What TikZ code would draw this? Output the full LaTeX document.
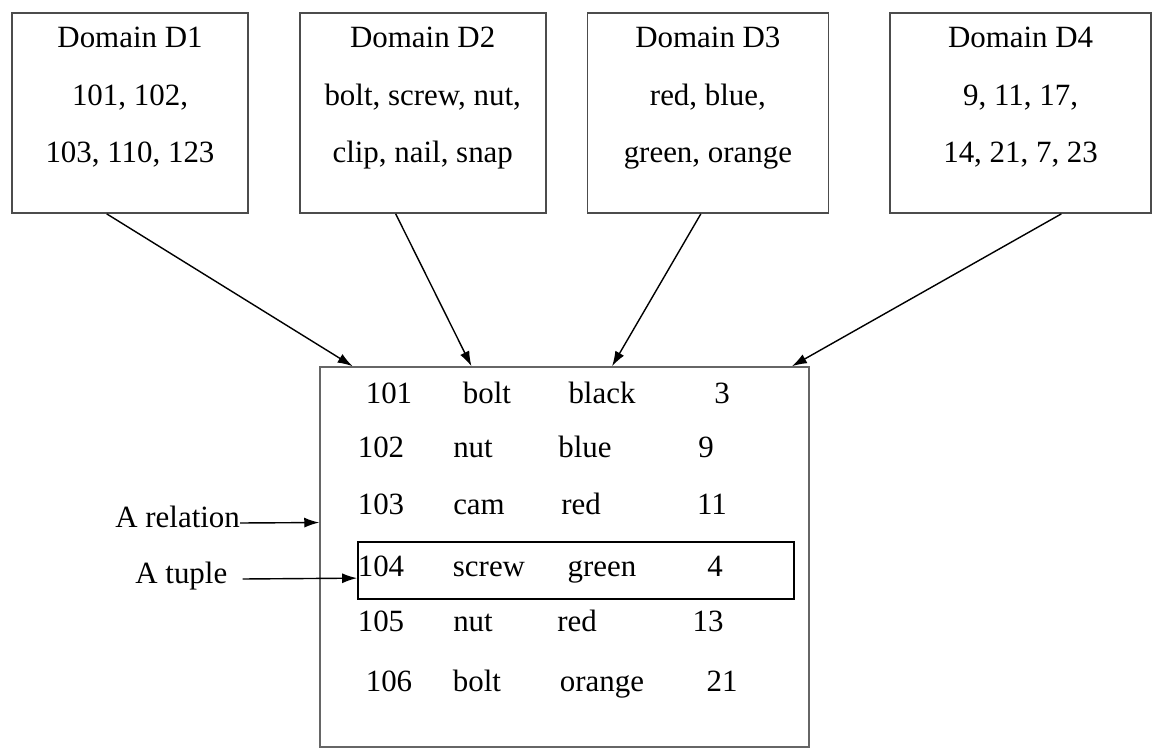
\documentclass[tikz,border=0pt]{standalone}
\usepackage{fontspec}
\setmainfont{Liberation Serif}
\usetikzlibrary{positioning,arrows.meta}

\begin{document}
\begin{tikzpicture}[x=0.02cm,y=-0.02cm,>={Latex[length=0.3cm,width=0.2cm]},
  font=\fontsize{17.6}{32.5}\selectfont,
  dombox/.style={draw=black!70,line width=1pt,minimum height=4cm,inner sep=0pt},
  dtext/.style={align=center,inner sep=0pt},
  relbox/.style={draw=black!60,line width=0.9pt,minimum width=9.78cm,minimum height=7.6cm,inner sep=0pt},
  tuplebox/.style={draw,line width=1.1pt,minimum width=8.72cm,minimum height=1.14cm,inner sep=0pt},
  cell/.style={anchor=base,inner sep=0pt},
  lbl/.style={anchor=base west,inner sep=0pt},
  conn/.style={->,line width=0.8pt}]

\useasboundingbox (0,0) rectangle (1162,749);

\node[dombox,minimum width=4.72cm](d1) at (130,113){};
\node[dombox,minimum width=4.92cm](d2)[right=1.0cm of d1]{};
\node[dombox,minimum width=4.82cm](d3)[right=0.8cm of d2]{};
\node[dombox,minimum width=5.22cm](d4)[right=1.2cm of d3]{};

\node[dtext](t1)[below=0.3cm of d1.north]{Domain D1\\101, 102,\\103, 110, 123};
\node[dtext](t2)[below=0.3cm of d2.north]{Domain D2\\bolt, screw, nut,\\clip, nail, snap};
\node[dtext](t3)[below=0.3cm of d3.north]{Domain D3\\red, blue,\\green, orange};
\node[dtext](t4)[below=0.3cm of d4.north]{Domain D4\\9, 11, 17,\\14, 21, 7, 23};

\node[relbox](rel) at (564.5,557){};
\node[tuplebox](tup) at (576,570.5){};

\node[cell](r1a) at (389,403){101};
\node[cell](r1b) at (487,403){bolt};
\node[cell](r1c) at (602,403){black};
\node[cell](r1d) at (722,403){3};
\node[cell](r2a) at (381,458){102};
\node[cell](r2b) at (473,458){nut};
\node[cell](r2c) at (585,458){blue};
\node[cell](r2d) at (706,458){9};
\node[cell](r3a) at (381,514){103};
\node[cell](r3b) at (479,514){cam};
\node[cell](r3c) at (581,514){red};
\node[cell](r3d) at (712,514){11};
\node[cell](r4a) at (381,576){104};
\node[cell](r4b) at (489,576){screw};
\node[cell](r4c) at (602,576){green};
\node[cell](r4d) at (715,576){4};
\node[cell](r5a) at (381,631){105};
\node[cell](r5b) at (473,631){nut};
\node[cell](r5c) at (577,631){red};
\node[cell](r5d) at (708,631){13};
\node[cell](r6a) at (389,691){106};
\node[cell](r6b) at (477,691){bolt};
\node[cell](r6c) at (602,691){orange};
\node[cell](r6d) at (722,691){21};

\node[lbl](lrel) at (115,527){A relation};
\node[lbl](ltup) at (135,583){A tuple};

\path[conn](d1.257.6) edge (rel.138.5)
	 (d2.255.4) edge (rel.116.4)
	 (d3.266.3) edge (rel.76.8)
	 (d4.292.8) edge (rel.40.75)
	 ([yshift=0.08cm]lrel.base east) edge (rel.172.1)
	 ([xshift=0.3cm,yshift=0.08cm]ltup.base east) edge (tup.182.23);

\end{tikzpicture}
\end{document}
